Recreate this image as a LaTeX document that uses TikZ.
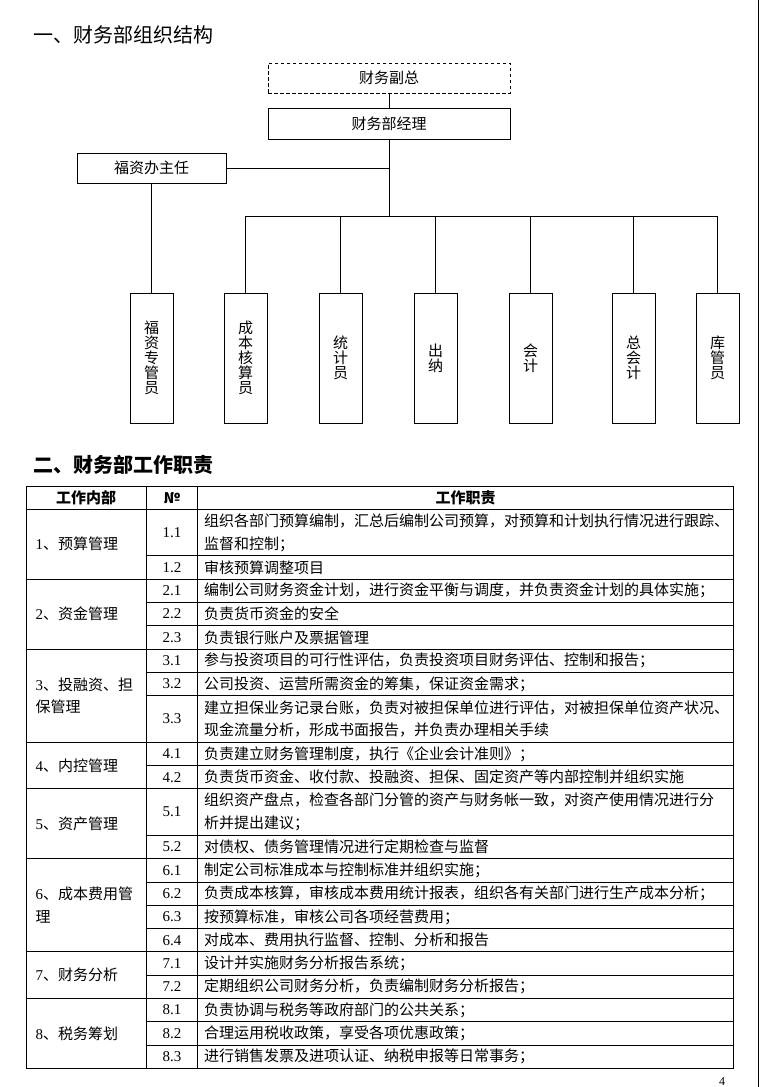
\documentclass[tikz,border=0pt]{standalone}
\usepackage{fontspec}
\setmainfont{Noto Sans CJK SC}
\newfontfamily\numf{Liberation Serif}
\newcommand\rowy[1]{509.3+23.29*#1}
\begin{document}
\begin{tikzpicture}[x=1pt,y=-1pt,
  every node/.style={inner sep=0pt, outer sep=0pt},
  hbox/.style={draw, line width=0.9pt, minimum height=30pt, font=\fontsize{15}{15}\selectfont},
  vbox/.style={draw, line width=0.9pt, minimum width=43pt, minimum height=130pt, align=center, font=\fontsize{15}{15}\selectfont},
  conn/.style={line width=0.9pt},
  gridline/.style={line width=0.9pt},
  cell/.style={anchor=west, align=left, font=\fontsize{15}{22.5}\selectfont},
  num/.style={font=\numf\fontsize{15}{18}\selectfont},
  head/.style={font=\bfseries\fontsize{15}{18}\selectfont},
  titlea/.style={anchor=west, font=\fontsize{20}{24}\selectfont},
  titleb/.style={anchor=west, font=\bfseries\fontsize{20}{24}\selectfont}]
\useasboundingbox (0,0) rectangle (779,1087);
\fill[white] (0,0) rectangle (779,1087);
% page edge line
\draw[line width=1.2pt] (758.3,0) -- (758.3,1087);

% ---------- titles ----------
\node[titlea] (ta) at (34,35) {一、财务部组织结构};
\node[titleb] (tb) at (34,465) {二、财务部工作职责};

% ---------- org chart ----------
\node[hbox, dash pattern=on 3.5pt off 2.5pt, minimum width=242pt] (fz) at (389,78) {财务副总};
\node[hbox, minimum width=242pt, minimum height=31pt] (jl) at (389,123.5) {财务部经理};
\node[hbox, minimum width=149pt] (zr) at (151.5,168) {福资办主任};
\node[vbox] (v1) at (151.5,358) {福\\资\\专\\管\\员};
\node[vbox] (v2) at (245.5,358) {成\\本\\核\\算\\员};
\node[vbox] (v3) at (340.5,358) {统\\计\\员};
\node[vbox] (v4) at (435.5,358) {出\\纳};
\node[vbox] (v5) at (530.5,358) {会\\计};
\node[vbox] (v6) at (633.5,358) {总\\会\\计};
\node[vbox] (v7) at (717.5,358) {库\\管\\员};
\coordinate (bus) at (389,216);
\draw[conn] (fz.south) -- (jl.north);
\draw[conn] (jl.south) -- (bus);
\draw[conn] (zr.east) -- (zr.east -| jl.south);
\draw[conn] (zr.south) -- (v1.north);
\draw[conn] (bus -| v2.north) -- (bus -| v7.north);
\foreach \i in {2,...,7} \draw[conn] (bus -| v\i.north) -- (v\i.north);

% ---------- table grid ----------
\draw[gridline] (26,486.7) rectangle (733.5,1068.3);
\draw[gridline] (146.5,486.7) -- (146.5,1068.3);
\draw[gridline] (197.5,486.7) -- (197.5,1068.3);
\draw[gridline] (26,509.3) -- (733.5,509.3);
\foreach \k in {3,6,10,12,15,19,21}
  \draw[gridline] (26,{\rowy{\k}}) -- (733.5,{\rowy{\k}});
\foreach \k in {2,4,5,7,8,11,14,16,17,18,20,22,23}
  \draw[gridline] (146.5,{\rowy{\k}}) -- (733.5,{\rowy{\k}});

% ---------- header ----------
\node[head] (h1) at (86,498) {工作内部};
\node[head] (h2) at (172,498) {№};
\node[head] (h3) at (465.5,498) {工作职责};

% ---------- column 1 ----------
\node[cell] (g1) at (35.5,{\rowy{1.5}}) {{\numf 1}、预算管理};
\node[cell] (g2) at (35.5,{\rowy{4.5}}) {{\numf 2}、资金管理};
\node[cell] (g3) at (35.5,{\rowy{8}}) {{\numf 3}、投融资、担\\保管理};
\node[cell] (g4) at (35.5,{\rowy{11}}) {{\numf 4}、内控管理};
\node[cell] (g5) at (35.5,{\rowy{13.5}}) {{\numf 5}、资产管理};
\node[cell] (g6) at (35.5,{\rowy{17}}) {{\numf 6}、成本费用管\\理};
\node[cell] (g7) at (35.5,{\rowy{20}}) {{\numf 7}、财务分析};
\node[cell] (g8) at (35.5,{\rowy{22.5}}) {{\numf 8}、税务筹划};

% ---------- numbers ----------
\node[num] (n11) at (172,{\rowy{1}}) {1.1};
\node[num] (n12) at (172,{\rowy{2.5}}) {1.2};
\node[num] (n21) at (172,{\rowy{3.5}}) {2.1};
\node[num] (n22) at (172,{\rowy{4.5}}) {2.2};
\node[num] (n23) at (172,{\rowy{5.5}}) {2.3};
\node[num] (n31) at (172,{\rowy{6.5}}) {3.1};
\node[num] (n32) at (172,{\rowy{7.5}}) {3.2};
\node[num] (n33) at (172,{\rowy{9}}) {3.3};
\node[num] (n41) at (172,{\rowy{10.5}}) {4.1};
\node[num] (n42) at (172,{\rowy{11.5}}) {4.2};
\node[num] (n51) at (172,{\rowy{13}}) {5.1};
\node[num] (n52) at (172,{\rowy{14.5}}) {5.2};
\node[num] (n61) at (172,{\rowy{15.5}}) {6.1};
\node[num] (n62) at (172,{\rowy{16.5}}) {6.2};
\node[num] (n63) at (172,{\rowy{17.5}}) {6.3};
\node[num] (n64) at (172,{\rowy{18.5}}) {6.4};
\node[num] (n71) at (172,{\rowy{19.5}}) {7.1};
\node[num] (n72) at (172,{\rowy{20.5}}) {7.2};
\node[num] (n81) at (172,{\rowy{21.5}}) {8.1};
\node[num] (n82) at (172,{\rowy{22.5}}) {8.2};
\node[num] (n83) at (172,{\rowy{23.5}}) {8.3};

% ---------- duties ----------
\node[cell] (t11) at (204,{\rowy{1}}) {组织各部门预算编制，汇总后编制公司预算，对预算和计划执行情况进行跟踪、\\监督和控制；};
\node[cell] (t12) at (204,{\rowy{2.5}}) {审核预算调整项目};
\node[cell] (t21) at (204,{\rowy{3.5}}) {编制公司财务资金计划，进行资金平衡与调度，并负责资金计划的具体实施；};
\node[cell] (t22) at (204,{\rowy{4.5}}) {负责货币资金的安全};
\node[cell] (t23) at (204,{\rowy{5.5}}) {负责银行账户及票据管理};
\node[cell] (t31) at (204,{\rowy{6.5}}) {参与投资项目的可行性评估，负责投资项目财务评估、控制和报告；};
\node[cell] (t32) at (204,{\rowy{7.5}}) {公司投资、运营所需资金的筹集，保证资金需求；};
\node[cell] (t33) at (204,{\rowy{9}}) {建立担保业务记录台账，负责对被担保单位进行评估，对被担保单位资产状况、\\现金流量分析，形成书面报告，并负责办理相关手续};
\node[cell] (t41) at (204,{\rowy{10.5}}) {负责建立财务管理制度，执行《企业会计准则》；};
\node[cell] (t42) at (204,{\rowy{11.5}}) {负责货币资金、收付款、投融资、担保、固定资产等内部控制并组织实施};
\node[cell] (t51) at (204,{\rowy{13}}) {组织资产盘点，检查各部门分管的资产与财务帐一致，对资产使用情况进行分\\析并提出建议；};
\node[cell] (t52) at (204,{\rowy{14.5}}) {对债权、债务管理情况进行定期检查与监督};
\node[cell] (t61) at (204,{\rowy{15.5}}) {制定公司标准成本与控制标准并组织实施；};
\node[cell] (t62) at (204,{\rowy{16.5}}) {负责成本核算，审核成本费用统计报表，组织各有关部门进行生产成本分析；};
\node[cell] (t63) at (204,{\rowy{17.5}}) {按预算标准，审核公司各项经营费用；};
\node[cell] (t64) at (204,{\rowy{18.5}}) {对成本、费用执行监督、控制、分析和报告};
\node[cell] (t71) at (204,{\rowy{19.5}}) {设计并实施财务分析报告系统；};
\node[cell] (t72) at (204,{\rowy{20.5}}) {定期组织公司财务分析，负责编制财务分析报告；};
\node[cell] (t81) at (204,{\rowy{21.5}}) {负责协调与税务等政府部门的公共关系；};
\node[cell] (t82) at (204,{\rowy{22.5}}) {合理运用税收政策，享受各项优惠政策；};
\node[cell] (t83) at (204,{\rowy{23.5}}) {进行销售发票及进项认证、纳税申报等日常事务；};

% ---------- page number ----------
\node[font=\numf\fontsize{12}{12}\selectfont] (pg) at (722,1082) {4};
\end{tikzpicture}
\end{document}
